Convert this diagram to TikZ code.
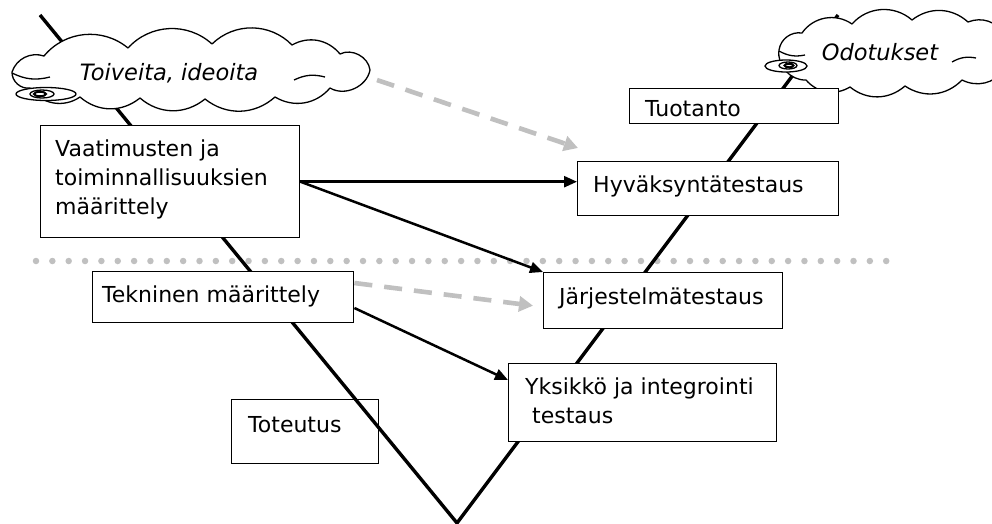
\documentclass[tikz,border=0pt]{standalone}
\usepackage{fontspec}
\setmainfont{DejaVu Sans}
\usetikzlibrary{arrows.meta,calc}
\definecolor{softgray}{RGB}{192,192,192}
\begin{document}
\begin{tikzpicture}[x=1pt,y=-1pt,
  box/.style={draw=black,line width=1.4pt,fill=white,inner sep=0pt,rectangle,anchor=north west},
  lbl/.style={anchor=west,inner sep=0pt,font=\fontsize{22}{29}\selectfont,align=left},
  cloudlbl/.style={inner sep=0pt,font=\fontsize{22.5}{26}\selectfont\itshape},
  puff/.style={draw=black,line width=1.3pt,fill=white,line join=round},
  fold/.style={draw=black,line width=1.3pt},
  bubble/.style={draw=black,line width=1.3pt,fill=white},
  vline/.style={line width=3.4pt,black},
  flow/.style={line width=2.5pt,black,-{Triangle[length=13pt,width=11pt]}},
  hint/.style={line width=4.6pt,draw=softgray,dash pattern=on 18pt off 12pt,-{Triangle[length=14pt,width=15pt,fill=softgray]}},
  sep/.style={line width=6.5pt,softgray,line cap=round,dash pattern=on 0pt off 16.35pt}]

\useasboundingbox (0,0) rectangle (992,523);
\fill[white] (0,0) rectangle (992,523);

% horizontal separator
\coordinate (sepL) at (36,261);
\coordinate (sepR) at (892,261);
\draw[sep] (sepL) -- (sepR);

% implementation box sits under the V line
\node[box,minimum width=147pt,minimum height=64pt] (tot) at (231,399) {};

% the V
\coordinate (vtopL) at (40,15);
\coordinate (vbot) at (457,523);
\coordinate (vtopR) at (838,15);
\draw[vline] (vtopL) -- (vbot) -- (vtopR);

% left cloud
\path[puff] (12,72) to[bend left=45] (44,56) to[bend left=45] (128,48)
  to[bend left=45] (212,44) to[bend left=45] (292,45) to[bend left=40] (340,54)
  to[bend left=55] (370,70) to[bend left=55] (330,88) to[bend left=40] (275,97)
  to[bend left=40] (205,99) to[bend left=40] (140,98) to[bend left=40] (80,97)
  to[bend left=45] (30,88) to[bend left=50] cycle;
\draw[fold] (12,73) to[bend right=20] (50,77);
\draw[fold] (294,80) to[bend left=20] (325,77);
\draw[bubble] (46,94) ellipse (30pt and 6.5pt);
\draw[bubble] (42,94) ellipse (12pt and 4pt);
\draw[bubble,line width=2pt] (40,94) ellipse (6pt and 2.2pt);
\node[cloudlbl] (toivT) at (169,73) {Toiveita, ideoita};

% right cloud
\path[puff] (779,50) to[bend left=45] (802,33) to[bend left=45] (852,24)
  to[bend left=45] (912,20) to[bend left=40] (968,22) to[bend left=40] (1004,34)
  -- (1004,70) to[bend left=40] (962,80) to[bend left=40] (905,86)
  to[bend left=40] (850,87) to[bend left=40] (806,80) to[bend left=50] cycle;
\draw[fold] (779,51) to[bend right=20] (805,55);
\draw[fold] (952,62) to[bend left=20] (976,58);
\draw[bubble] (786,66) ellipse (21pt and 6pt);
\draw[bubble] (788,65.5) ellipse (9pt and 3.5pt);
\draw[bubble,line width=2pt] (789,65.5) ellipse (4.5pt and 1.8pt);
\node[cloudlbl] (odotT) at (880,52) {Odotukset};

% boxes
\node[box,minimum width=259pt,minimum height=112pt] (vaat) at (40,125) {};
\node[box,minimum width=261pt,minimum height=51pt] (tekn) at (92,271) {};
\node[box,minimum width=209pt,minimum height=35pt] (tuot) at (629,88) {};
\node[box,minimum width=261pt,minimum height=54pt] (hyv) at (577,161) {};
\node[box,minimum width=239pt,minimum height=56pt] (jarj) at (543,272) {};
\node[box,minimum width=268pt,minimum height=78pt] (yks) at (508,363) {};

% labels
\node[lbl] (vaatT) at (55,179) {Vaatimusten ja\\toiminnallisuuksien\\määrittely};
\node[lbl] (teknT) at (102,296) {Tekninen määrittely};
\node[lbl] (totT) at (248,425) {Toteutus};
\node[lbl] (tuotT) at (645,109) {Tuotanto};
\node[lbl] (hyvT) at (593,186) {Hyväksyntätestaus};
\node[lbl] (jarjT) at (559,298) {Järjestelmätestaus};
\node[lbl] (yksT) at (525,401) {Yksikkö ja integrointi\\\hspace{7pt}testaus};

% connectors
\draw[flow] (vaat.east) -- (vaat.east -| hyv.west);
\draw[flow] (vaat.east) -- (jarj.north west);
\draw[flow] ($(tekn.north east)+(0,37)$) -- ($(yks.north west)+(0,17)$);

\coordinate (wish) at (377,80);
\draw[hint] (wish) -- ($(hyv.north west)+(1,-13)$);
\draw[hint] ($(tekn.north east)+(0,12)$) -- ($(jarj.west)+(-10,5)$);
\end{tikzpicture}
\end{document}
